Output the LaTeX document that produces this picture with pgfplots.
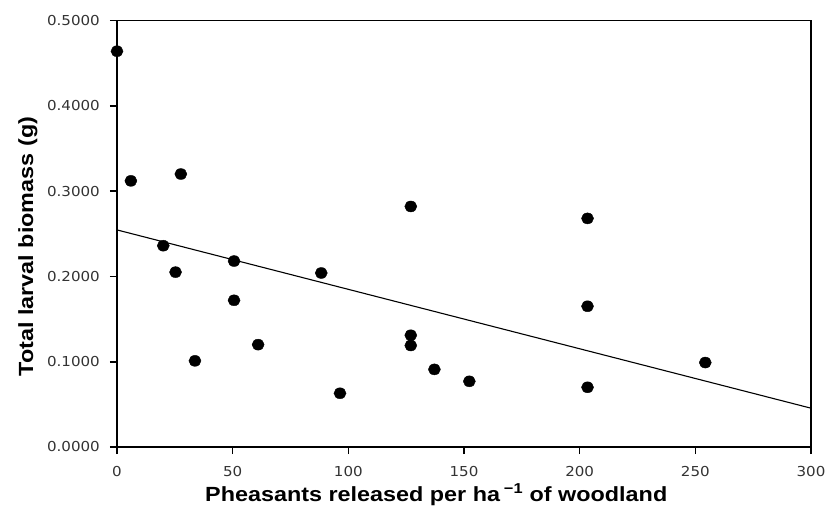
\documentclass[border=0pt]{standalone}
\usepackage{fontspec}
\usepackage{graphicx}
\usepackage{pgfplots}
\pgfplotsset{compat=1.18}
\setmainfont{Liberation Sans}
\newfontfamily\tickfont{DejaVu Sans}

\begin{document}
\begin{tikzpicture}
  \begin{axis}[
    scale only axis,
    width=694pt, height=426.5pt,
    xmin=0, xmax=300, ymin=0, ymax=0.5,
    xtick={0,50,...,300},
    ytick={0,0.1,0.2,0.3,0.4,0.5},
    scaled y ticks=false,
    tick pos=left,
    tick align=outside,
    major tick length=7pt,
    every tick/.style={black, line width=1.6pt},
    axis line style={line width=1.6pt},
    ticklabel style={font=\tickfont\fontsize{13.7}{16}\selectfont, text=black!80, inner sep=0pt},
    xticklabel={\scalebox{1.1}[1]{\pgfmathprintnumber[assume math mode=true]{\tick}}},
    yticklabel={\scalebox{1.1}[1]{\pgfmathprintnumber[fixed,fixed zerofill,precision=4,assume math mode=true]{\tick}}},
    yticklabel shift=10pt,
    xticklabel shift=12pt,
    xlabel={\scalebox{1.14}[1]{Pheasants released per ha\,\textsuperscript{−1} of woodland}},
    ylabel={\scalebox{1.14}[1]{Total larval biomass (g)}},
    label style={font=\bfseries\fontsize{20.5}{24}\selectfont},
    xlabel style={at={(axis description cs:0.46,0)}, anchor=base, yshift=-54pt},
    ylabel style={at={(axis description cs:-0.121,0.47)}, anchor=base, rotate=0},
    clip=false,
    execute at end axis={\coordinate (o) at (rel axis cs:0,0);},
  ]
    \addplot [only marks, mark=*, mark size=5.5pt, mark options={xscale=1.1, fill=black, draw=black}] coordinates {
      (0, 0.464)
      (6.0, 0.312)
      (27.6, 0.320)
      (20.0, 0.236)
      (25.3, 0.205)
      (50.6, 0.218)
      (50.6, 0.172)
      (33.7, 0.101)
      (61.0, 0.120)
      (88.3, 0.204)
      (96.4, 0.063)
      (127.0, 0.282)
      (127.0, 0.131)
      (127.0, 0.119)
      (137.2, 0.091)
      (152.3, 0.077)
      (203.4, 0.268)
      (203.4, 0.165)
      (203.4, 0.070)
      (254.3, 0.099)
    };
    \addplot [black, line width=1.1pt] coordinates {
      (0, 0.2545)
      (300, 0.0455)
    };
  \end{axis}
  \pgfresetboundingbox
  \path[use as bounding box] (o) ++(-117pt,-59pt) rectangle ++(826pt,506pt);
\end{tikzpicture}
\end{document}
